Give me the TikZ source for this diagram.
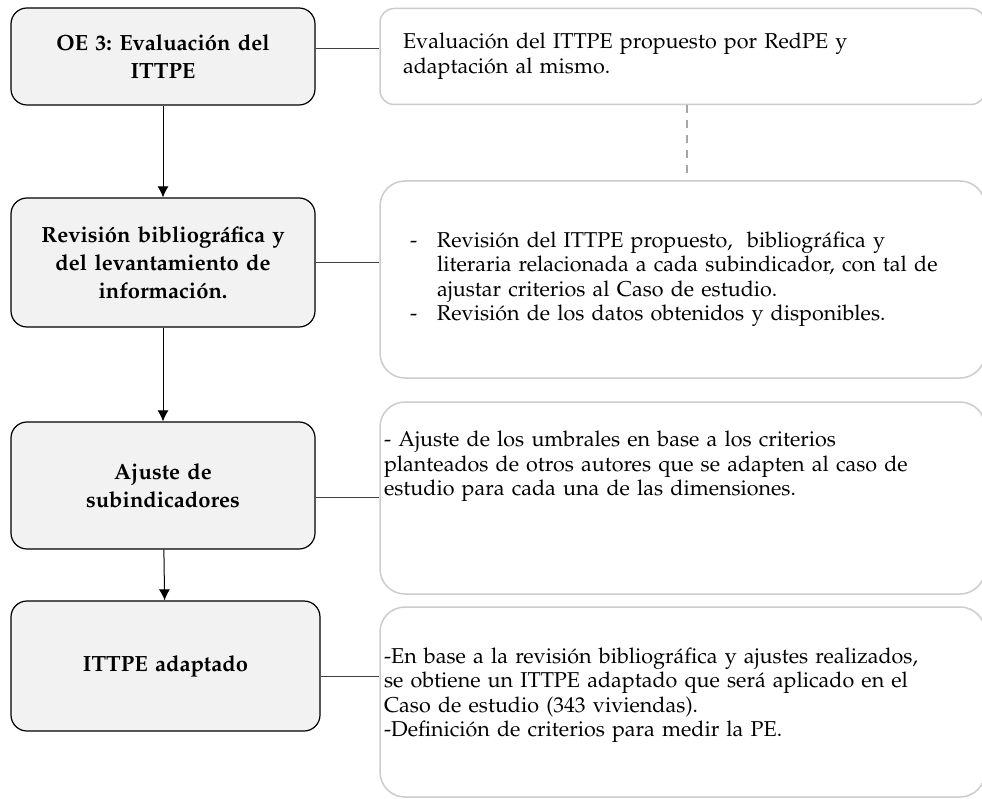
\documentclass[tikz,border=0pt]{standalone}
\usepackage[T1]{fontenc}
\usepackage{mathpazo}
\usetikzlibrary{arrows.meta}
\usetikzlibrary{positioning,calc}
\frenchspacing
\newcommand{\tightspace}{\spaceskip=0.19em plus 0.1em\relax}

\begin{document}
\begin{tikzpicture}[auto, x=1pt, y=1pt, >={Latex[length=11pt,width=11pt]}]

%local definitions
\tikzstyle{Stage} = [draw, line width=1.2pt, fill=black!5, rectangle, rounded corners=16pt, minimum width=304pt, text width=290pt, inner sep=4pt, align=center, font=\bfseries\fontsize{22}{28}\selectfont\tightspace]
\tikzstyle{Detail} = [draw=black!20, line width=1.5pt, fill=white, rectangle, rounded corners=25pt, minimum width=605pt, inner sep=4pt, align=left, font=\fontsize{21.5}{24.5}\selectfont\tightspace]
\tikzstyle{link} = [draw=black!75, line width=1pt]
\tikzstyle{guide} = [draw=black!35, line width=1.5pt, dash pattern=on 8pt off 7pt]

\clip (0,0) rectangle (982,-799);

%stages
	\node [Stage, minimum height=97pt] (OE) at (163,-56.5) {OE 3: Evaluación del\\ITTPE};
	\node [Stage, minimum height=129pt, node distance=206pt, below of=OE] (Review) {Revisión bibliográfica y\\del levantamiento de\\información.};
	\node [Stage, minimum height=127pt, node distance=223pt, below of=Review] (Adjust) {Ajuste de\\subindicadores};
	\node [Stage, minimum height=130pt, minimum width=309pt, node distance=180.5pt, below of=Adjust, xshift=2.5pt] (Adapted) {ITTPE adaptado};

%descriptions
	\node [Detail, minimum height=96pt, rounded corners=14pt, text width=559pt, node distance=519.5pt, right of=OE] (Eval) {Evaluación del ITTPE propuesto por RedPE y\\adaptación al mismo.};
	\node [Detail, minimum height=197pt, text width=545pt, node distance=519.5pt, right of=Review, yshift=-17pt] (Sources) {\makebox[27pt][l]{-}Revisión del ITTPE propuesto,~ bibliográfica y\\\hspace*{27pt}literaria relacionada a cada subindicador, con tal de\\\hspace*{27pt}ajustar criterios al Caso de estudio.\\\makebox[27pt][l]{-}Revisión de los datos obtenidos y disponibles.};
	\node [Detail, minimum height=192pt, text width=597pt, text depth=118pt, node distance=519.5pt, right of=Adjust, yshift=-12.5pt] (Thresholds) {- Ajuste de los umbrales en base a los criterios\\planteados de otros autores que se adapten al caso de\\estudio para cada una de las dimensiones.};
	\node [Detail, minimum height=190pt, text width=597pt, text depth=93pt, node distance=517pt, right of=Adapted, yshift=-36pt] (Result) {-En base a la revisión bibliográfica y ajustes realizados,\\se obtiene un ITTPE adaptado que será aplicado en el\\Caso de estudio (343 viviendas).\\-Definición de criterios para medir la PE.};

%connections
	\draw [->, line width=1pt] (OE) -- (Review);
	\draw [->, line width=1pt] (Review) -- (Adjust);
	\draw [->, line width=1pt] (Adjust) -- (Adapted);

	\draw [link] ($(OE.east)+(0,7.5)$) -- ($(OE.east -| Eval.west)+(0,7.5)$);
	\draw [link] (Review.east) -- (Review.east -| Sources.west);
	\draw [link] ($(Adjust.east)+(0,-11.5)$) -- ($(Adjust.east -| Thresholds.west)+(0,-11.5)$);
	\draw [link] ($(Adapted.east)+(0,-10)$) -- ($(Adapted.east -| Result.west)+(0,-10)$);

	%dashed guide
	\draw [guide] ($(Eval.south)+(4.5,0)$) -- ($(Sources.north)+(4.5,0)$);

\end{tikzpicture}
\end{document}
